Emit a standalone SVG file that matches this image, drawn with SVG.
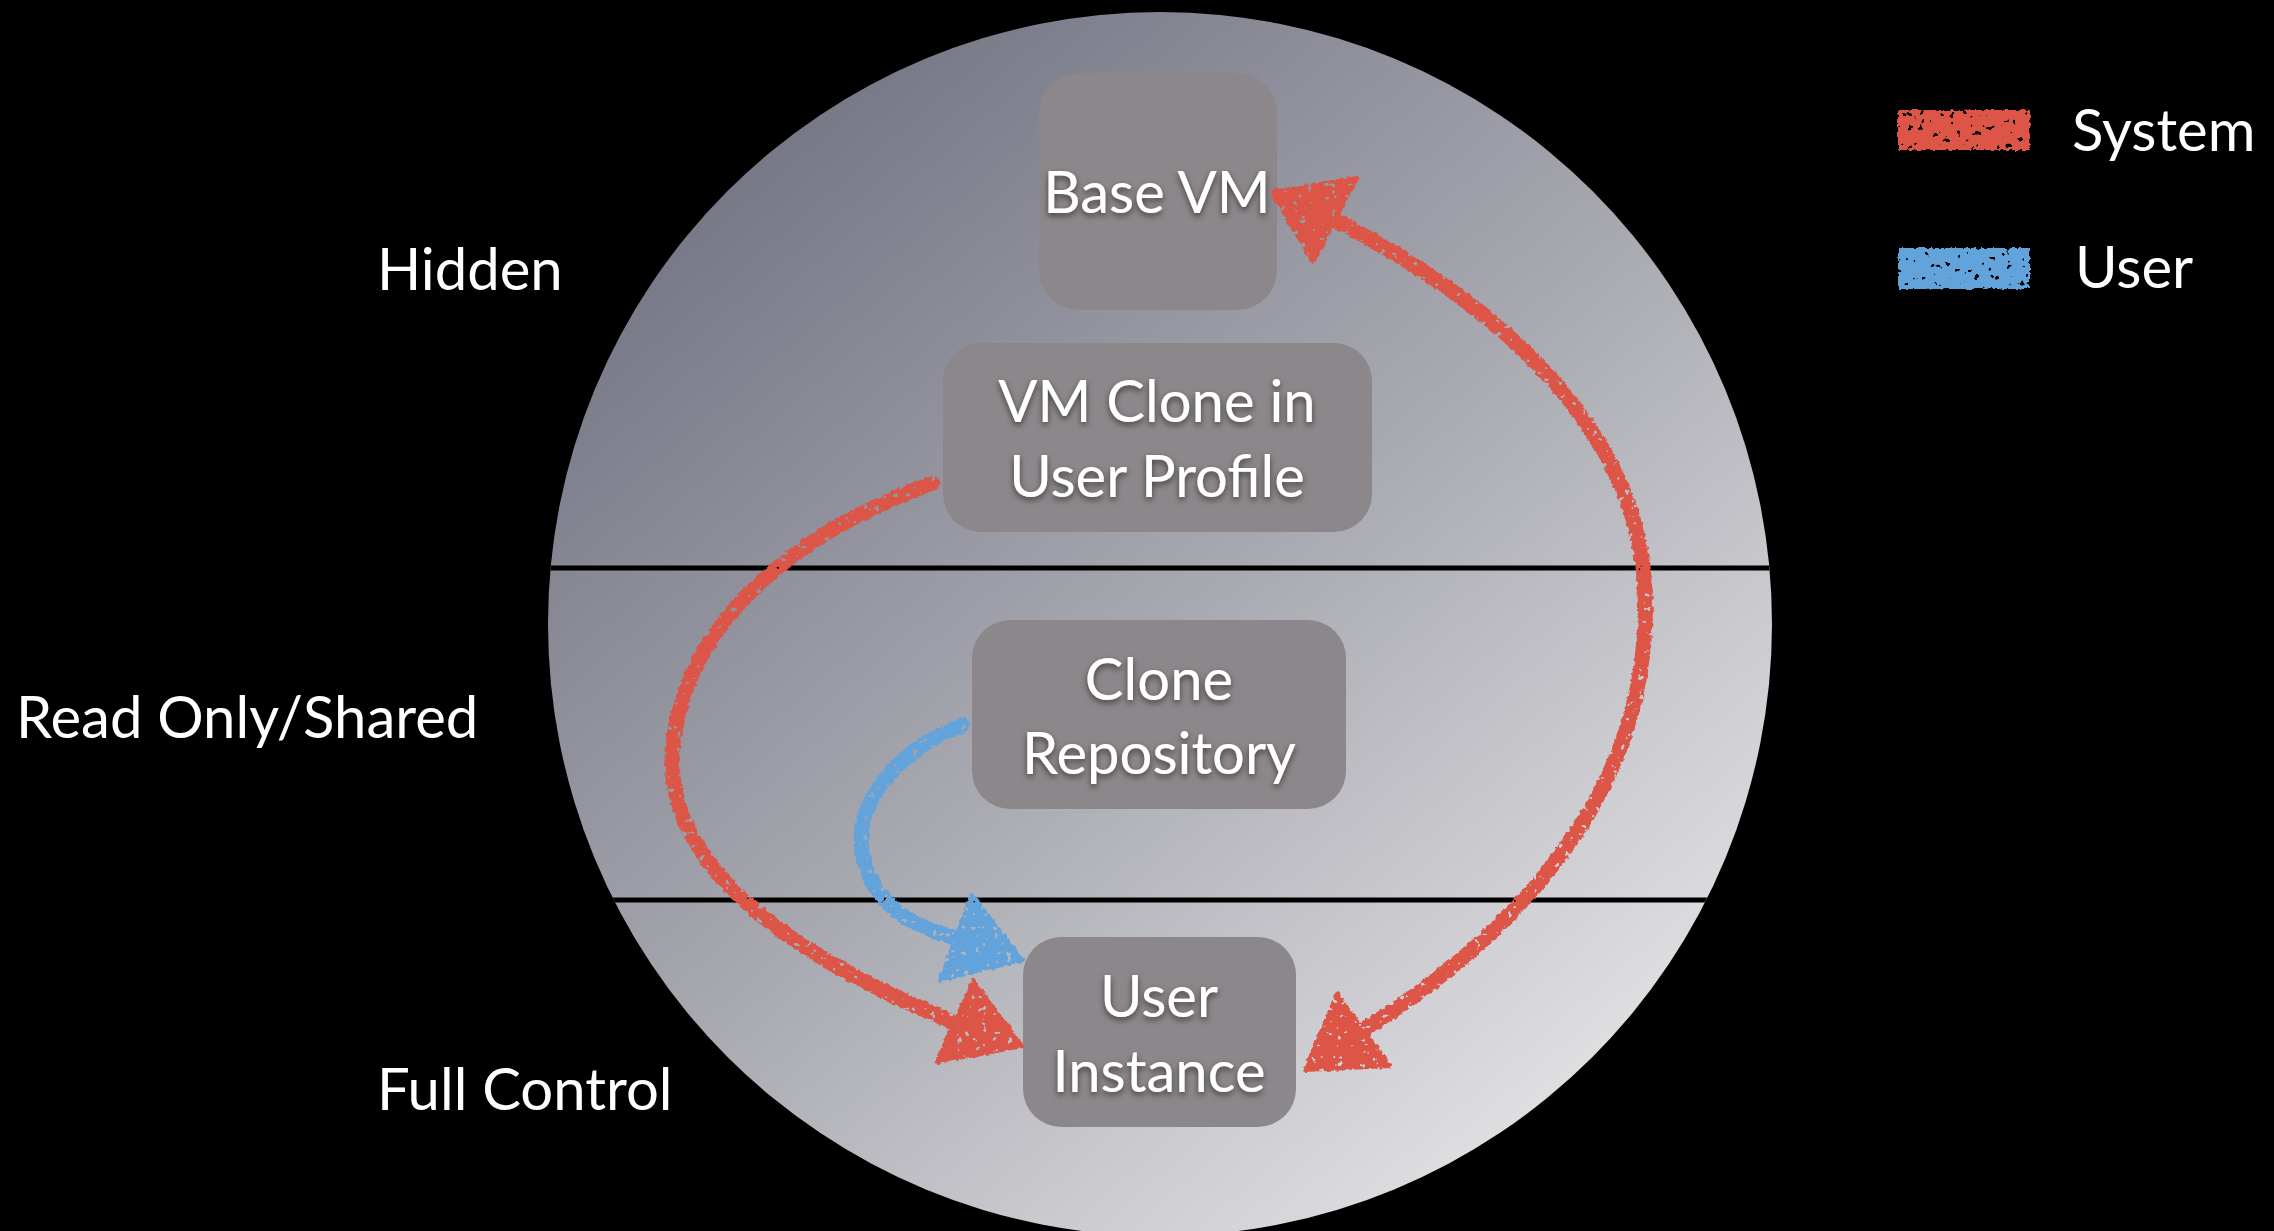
<svg xmlns="http://www.w3.org/2000/svg" width="2274" height="1231" viewBox="0 0 2274 1231">
<defs>
  <linearGradient id="disc" x1="700" y1="80" x2="1650" y2="1180" gradientUnits="userSpaceOnUse">
    <stop offset="0" stop-color="#6f7180"/>
    <stop offset="0.5" stop-color="#a9a9b1"/>
    <stop offset="1" stop-color="#eaeaec"/>
  </linearGradient>
  <clipPath id="discClip"><circle cx="1160" cy="624" r="612"/></clipPath>
  <filter id="rough" filterUnits="userSpaceOnUse" x="0" y="0" width="2274" height="1231">
    <feTurbulence type="fractalNoise" baseFrequency="0.22" numOctaves="2" seed="4" result="n"/>
    <feDisplacementMap in="SourceGraphic" in2="n" scale="5" xChannelSelector="R" yChannelSelector="G" result="d"/>
    <feTurbulence type="fractalNoise" baseFrequency="0.16" numOctaves="2" seed="11" result="n2"/>
    <feColorMatrix in="n2" type="matrix" values="0 0 0 0 0  0 0 0 0 0  0 0 0 0 0  -25 0 0 0 18" result="holes"/>
    <feComposite in="d" in2="holes" operator="in"/>
  </filter>
  <filter id="tshadow" x="-10%" y="-20%" width="120%" height="150%">
    <feDropShadow dx="0" dy="3" stdDeviation="3" flood-color="#000" flood-opacity="0.55"/>
  </filter>
</defs>
<style>
  .lbl { font-family: Lato, "Open Sans", "Liberation Sans", sans-serif; font-size: 58px; fill: #ffffff; }
  .ntxt { font-family: Lato, "Open Sans", "Liberation Sans", sans-serif; font-size: 58px; fill: #ffffff; text-anchor: middle; filter: url(#tshadow); }
  .box { fill: #8c878a; }
  .sep { stroke: #000; stroke-width: 5; }
  .sys { fill: none; stroke: #dd5446; stroke-width: 15; stroke-linecap: round; }
  .usr { fill: none; stroke: #63a3dc; stroke-width: 15; stroke-linecap: round; }
  .sysHead { fill: #dd5446; stroke: #dd5446; stroke-width: 4; stroke-linejoin: round; }
  .usrHead { fill: #63a3dc; stroke: #63a3dc; stroke-width: 4; stroke-linejoin: round; }
</style>
<rect width="2274" height="1231" fill="#000"/>
<g id="disc-bg">
  <circle cx="1160" cy="624" r="612" fill="url(#disc)"/>
  <g clip-path="url(#discClip)">
    <line class="sep" x1="540" y1="568" x2="1780" y2="568"/>
    <line class="sep" x1="540" y1="900" x2="1780" y2="900"/>
  </g>
</g>
<g id="zone-labels">
  <text class="lbl" x="377" y="290">Hidden</text>
  <text class="lbl" x="16" y="738">Read Only/Shared</text>
  <text class="lbl" x="377" y="1110">Full Control</text>
</g>
<g id="node-basevm">
  <rect class="box" x="1039" y="73" width="238" height="237" rx="40"/>
  <text class="ntxt" x="1157" y="213">Base VM</text>
</g>
<g id="node-vmclone">
  <rect class="box" x="943" y="343" width="429" height="189" rx="38"/>
  <text class="ntxt" x="1157" y="422">VM Clone in</text>
  <text class="ntxt" x="1157" y="497">User Profile</text>
</g>
<g id="node-clonerepo">
  <rect class="box" x="972" y="620" width="374" height="189" rx="38"/>
  <text class="ntxt" x="1159" y="700">Clone</text>
  <text class="ntxt" x="1159" y="774">Repository</text>
</g>
<g id="node-userinstance">
  <rect class="box" x="1023" y="937" width="273" height="190" rx="38"/>
  <text class="ntxt" x="1159" y="1017">User</text>
  <text class="ntxt" x="1159" y="1092">Instance</text>
</g>
<g id="connectors" filter="url(#rough)">
  <path class="sys" d="M933,483 C830,520 690,600 673,744 C660,870 800,960 958,1024"/>
  <polygon class="sysHead" points="973,981 1022,1046 937,1062"/>
  <path class="usr" d="M962,725 C900,750 855,800 862,850 C870,905 915,928 958,938"/>
  <polygon class="usrHead" points="972,895 1022,960 940,980"/>
  <path class="sys" d="M1335,220 C1470,290 1655,420 1645,620 C1640,810 1500,945 1363,1030"/>
  <polygon class="sysHead" points="1272,192 1357,178 1313,262"/>
  <polygon class="sysHead" points="1337,994 1390,1066 1305,1070"/>
</g>
<g id="legend">
  <g filter="url(#rough)">
    <rect x="1898" y="110" width="132" height="40" fill="#dd5446"/>
    <rect x="1898" y="248" width="132" height="41" fill="#63a3dc"/>
  </g>
  <text class="lbl" x="2072" y="151">System</text>
  <text class="lbl" x="2075" y="288">User</text>
</g>
</svg>
